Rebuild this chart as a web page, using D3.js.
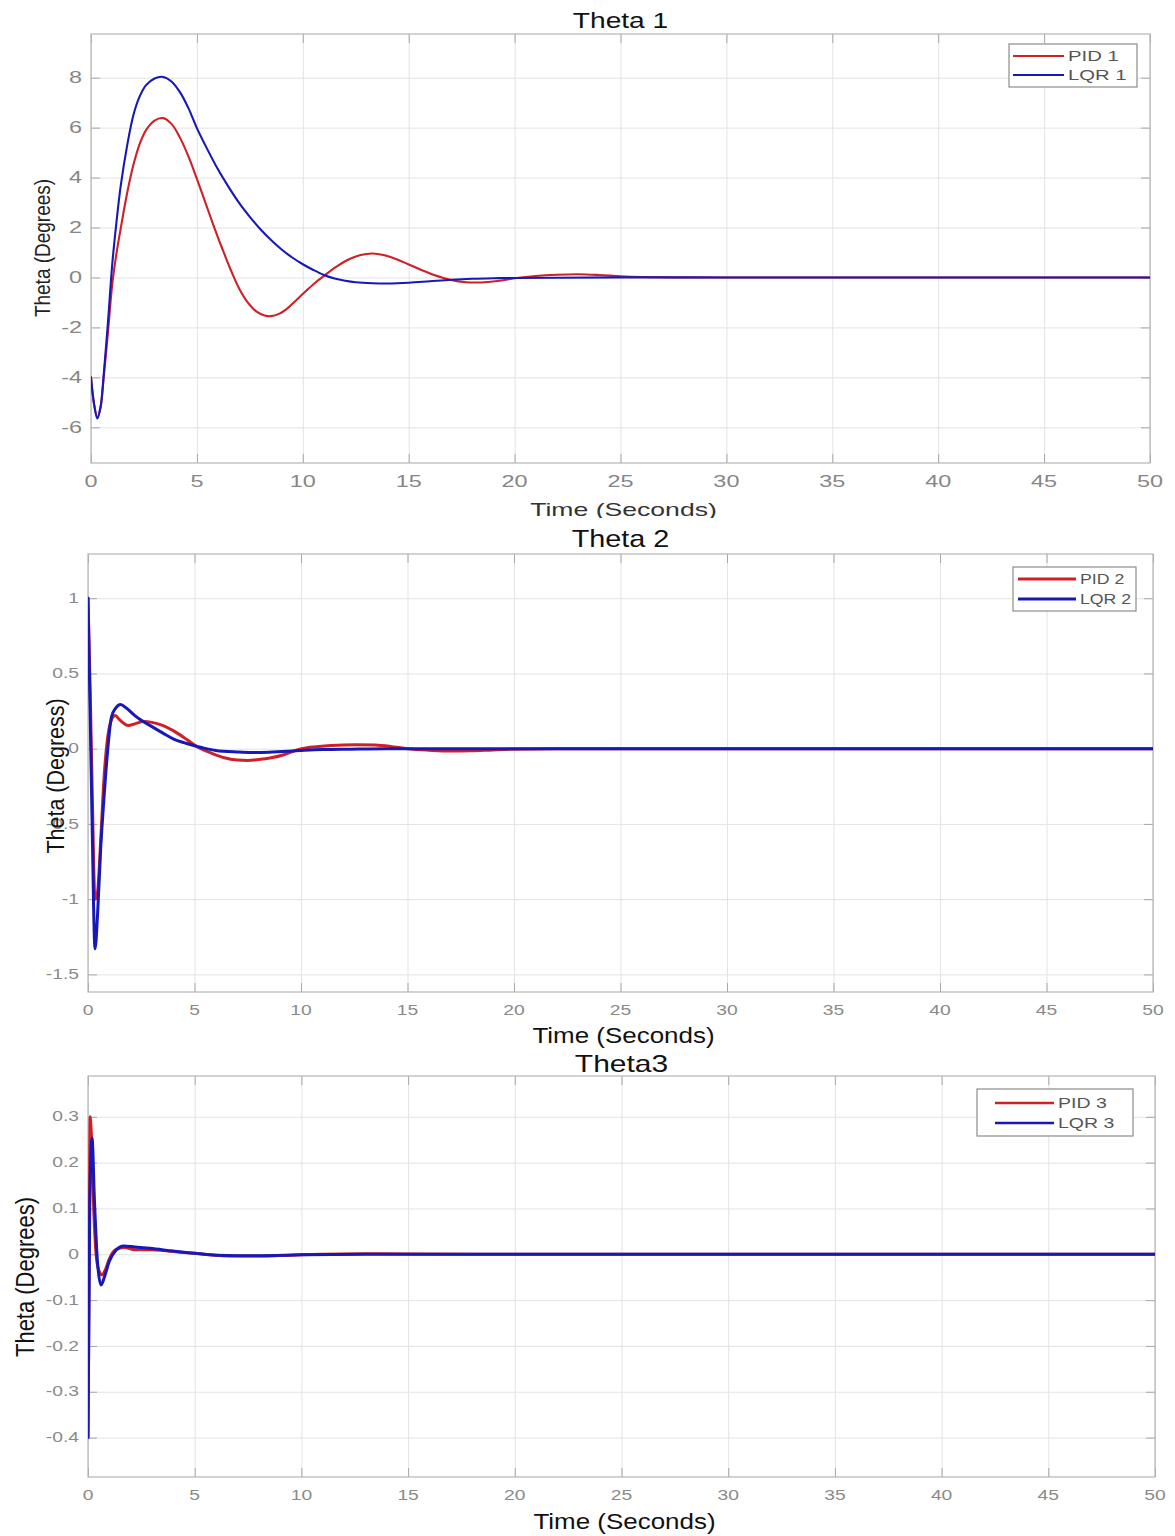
<!DOCTYPE html>
<html>
<head>
<meta charset="utf-8">
<script src="https://cdn.jsdelivr.net/npm/d3@7"></script>
<style>
  html, body { margin: 0; padding: 0; background: #fff; }
  svg { display: block; }
  text { font-family: "Liberation Sans", Arial, sans-serif; }
</style>
</head>
<body>
<svg id="chart" width="1175" height="1536"></svg>
<script>
// ---------------- DATA ----------------
const xTicks = [0, 5, 10, 15, 20, 25, 30, 35, 40, 45, 50];

// Theta 1
const theta1Ticks = [-6, -4, -2, 0, 2, 4, 6, 8];
const pid1T = [0, 0.15, 0.3, 0.45, 0.6, 0.8, 1.0, 1.2, 1.4, 1.7, 2.0, 2.3, 2.6, 3.0, 3.4, 3.8, 4.2, 4.6, 5.0, 5.4, 5.8, 6.2, 6.6, 7.0, 7.4, 7.8, 8.2, 8.5, 8.9, 9.3, 9.7, 10.2, 10.6, 11.0, 11.5, 12.0, 12.5, 13.0, 13.3, 13.8, 14.4, 15.0, 15.6, 16.2, 17.0, 17.7, 18.4, 19.2, 20.1, 21.0, 22.0, 23.0, 24.0, 25.0, 26.0, 27.5, 30, 35, 40, 45, 50];
const pid1V = [-4, -5.1, -5.6, -5.2, -4.0, -2.2, -0.3, 0.95, 1.95, 3.35, 4.5, 5.35, 5.9, 6.28, 6.38, 6.15, 5.6, 4.85, 3.95, 3.0, 2.05, 1.15, 0.3, -0.45, -1.0, -1.36, -1.52, -1.55, -1.45, -1.22, -0.9, -0.5, -0.2, 0.06, 0.38, 0.65, 0.84, 0.94, 0.96, 0.9, 0.74, 0.52, 0.3, 0.1, -0.1, -0.19, -0.2, -0.14, -0.02, 0.06, 0.11, 0.13, 0.1, 0.05, 0.02, 0, 0, 0, 0, 0, 0];
const lqr1T = [0, 0.15, 0.3, 0.45, 0.6, 0.8, 1.0, 1.2, 1.4, 1.7, 2.0, 2.3, 2.6, 3.0, 3.4, 3.8, 4.2, 4.6, 5.0, 5.5, 6.0, 6.5, 7.0, 7.5, 8.0, 8.5, 9.0, 9.5, 10.0, 10.5, 11.0, 11.5, 12.0, 12.5, 13.3, 14.0, 15.0, 16.0, 17.0, 18.0, 19.0, 20.0, 22.0, 25, 30, 35, 40, 50];
const lqr1V = [-4, -5.1, -5.65, -5.2, -3.9, -1.8, 0.5, 2.2, 3.65, 5.25, 6.5, 7.25, 7.7, 7.97, 8.03, 7.85, 7.42, 6.78, 5.98, 5.12, 4.32, 3.62, 2.98, 2.43, 1.93, 1.5, 1.12, 0.8, 0.53, 0.3, 0.1, -0.04, -0.13, -0.19, -0.23, -0.24, -0.21, -0.15, -0.09, -0.05, -0.03, -0.02, -0.01, 0.005, 0, 0, 0, 0];

// Theta 2
const theta2Ticks = [-1.5, -1, -0.5, 0, 0.5, 1];
const pid2T = [0, 0.1, 0.2, 0.33, 0.45, 0.6, 0.75, 0.9, 1.05, 1.27, 1.5, 1.89, 2.2, 2.6, 3.0, 3.5, 4.0, 4.5, 5.0, 5.3, 5.8, 6.4, 7.0, 7.5, 8.0, 8.6, 9.2, 9.9, 10.6, 11.4, 12.6, 13.5, 14.2, 15.0, 16.0, 17.0, 18.0, 19.0, 20.0, 22, 25, 30, 50];
const pid2V = [1, 0.4, -0.3, -1.0, -0.95, -0.6, -0.2, 0.05, 0.17, 0.22, 0.19, 0.155, 0.165, 0.18, 0.175, 0.155, 0.12, 0.075, 0.025, 0.0, -0.03, -0.06, -0.075, -0.078, -0.072, -0.06, -0.04, -0.005, 0.012, 0.022, 0.027, 0.024, 0.015, 0.0, -0.01, -0.016, -0.014, -0.008, -0.003, 0, 0, 0, 0];
const lqr2T = [0, 0.1, 0.2, 0.33, 0.45, 0.6, 0.72, 0.9, 1.1, 1.3, 1.53, 1.8, 2.2, 2.6, 2.9, 3.5, 4.0, 4.5, 5.0, 5.5, 6.0, 7.0, 7.6, 8.5, 10.0, 11.0, 12.3, 14, 16, 20, 50];
const lqr2V = [1, 0.25, -0.55, -1.33, -1.1, -0.65, -0.39, -0.05, 0.21, 0.27, 0.294, 0.27, 0.22, 0.18, 0.155, 0.105, 0.066, 0.04, 0.02, 0.002, -0.012, -0.022, -0.025, -0.023, -0.012, -0.006, -0.003, 0.0, 0, 0, 0];

// Theta 3
const theta3Ticks = [-0.4, -0.3, -0.2, -0.1, 0, 0.1, 0.2, 0.3];
const pid3T = [0, 0.05, 0.1, 0.15, 0.25, 0.4, 0.55, 0.66, 0.8, 1.0, 1.3, 1.7, 2.2, 2.9, 4.0, 5.0, 6.0, 7.0, 8.0, 9.5, 11, 13, 15, 20, 50];
const pid3V = [-0.4, -0.05, 0.3, 0.27, 0.12, -0.01, -0.04, -0.045, -0.035, -0.01, 0.01, 0.015, 0.01, 0.01, 0.006, 0.002, -0.002, -0.004, -0.004, -0.002, 0, 0.001, 0.0005, 0, 0];
const lqr3T = [0, 0.08, 0.19, 0.3, 0.45, 0.61, 0.8, 1.0, 1.3, 1.67, 2.2, 2.9, 4.0, 5.0, 6.0, 7.0, 8.0, 10, 13, 20, 50];
const lqr3V = [-0.4, 0.1, 0.253, 0.12, -0.02, -0.067, -0.045, -0.015, 0.008, 0.018, 0.016, 0.013, 0.007, 0.002, -0.002, -0.003, -0.003, -0.001, 0, 0, 0];

const panelTitles = ["Theta 1", "Theta 2", "Theta3"];
const yLabels = ["Theta (Degrees)", "Theta (Degress)", "Theta (Degrees)"];
const xLabel = "Time (Seconds)";
const legendNames = [["PID 1", "LQR 1"], ["PID 2", "LQR 2"], ["PID 3", "LQR 3"]];

// ---------------- LAYOUT / STYLE ----------------
const RED = "#cf2026", BLUE = "#1818b8";
const panels = [
  { left: 91, right: 1150, top: 34, bottom: 463, yDom: [-7.43, 9.75], yTicks: theta1Ticks,
    series: [[pid1T, pid1V], [lqr1T, lqr1V]], lw: 2.1, curve: d3.curveCatmullRom.alpha(0.5),
    tickFont: 16.5, tickSx: 1.42, tickColor: "#868686", xTickY: 481, yTickX: 82,
    title: { y: 20, size: 22, sx: 1.28 }, xlab: { y: 509, size: 19, sx: 1.4, color: "#333" },
    ylab: { x: 42, y: 248, size: 19, sx: 1.2, color: "#222" },
    legend: { x: 1009, y: 44, w: 128, h: 43, l1: 1013, l2: 1064, tx: 1068, r1: 56, r2: 75, size: 14, sx: 1.45, lw: 2 },
    clipBottom: 518 },
  { left: 88, right: 1153, top: 554, bottom: 992, yDom: [-1.617, 1.294], yTicks: theta2Ticks,
    series: [[pid2T, pid2V], [lqr2T, lqr2V]], lw: 3, curve: d3.curveMonotoneX,
    tickFont: 14.5, tickSx: 1.33, tickColor: "#8a8a8a", xTickY: 1010, yTickX: 79,
    title: { y: 539, size: 24, sx: 1.2 }, xlab: { y: 1035, size: 22, sx: 1.18, color: "#111" },
    ylab: { x: 55, y: 776, size: 21.5, sx: 1.15, color: "#111" },
    legend: { x: 1013, y: 567, w: 123, h: 44, l1: 1018, l2: 1076, tx: 1080, r1: 579, r2: 599, size: 15, sx: 1.18, lw: 3 },
    clipBottom: 1536 },
  { left: 88, right: 1155, top: 1076, bottom: 1477, yDom: [-0.486, 0.389], yTicks: theta3Ticks,
    series: [[pid3T, pid3V], [lqr3T, lqr3V]], lw: 3, curve: d3.curveMonotoneX,
    tickFont: 14.5, tickSx: 1.33, tickColor: "#8a8a8a", xTickY: 1495, yTickX: 79,
    title: { y: 1064, size: 24, sx: 1.25 }, xlab: { y: 1521, size: 22, sx: 1.18, color: "#111" },
    ylab: { x: 25, y: 1277, size: 22, sx: 1.15, color: "#111" },
    legend: { x: 977, y: 1089, w: 156, h: 47, l1: 995, l2: 1054, tx: 1058, r1: 1103, r2: 1123, size: 15, sx: 1.3, lw: 2.5 },
    clipBottom: 1536 }
];

const svg = d3.select("#chart");

function stretchedText(g, x, y, str, o) {
  return g.append("text")
    .attr("transform", `translate(${x},${y}) scale(${o.sx},1)` + (o.rot ? " rotate(-90)" : ""))
    .attr("text-anchor", o.anchor || "middle")
    .attr("dominant-baseline", "central")
    .attr("font-size", o.size)
    .attr("fill", o.color || "#000")
    .text(str);
}

function fmt(v) { return String(+v.toFixed(2)); }

panels.forEach((p, i) => {
  const clipId = "pclip" + i;
  svg.append("clipPath").attr("id", clipId + "t")
    .append("rect").attr("x", 0).attr("y", 0).attr("width", 1175).attr("height", p.clipBottom);
  const g = svg.append("g").attr("clip-path", `url(#${clipId}t)`);

  const x = d3.scaleLinear().domain([0, 50]).range([p.left, p.right]);
  const y = d3.scaleLinear().domain(p.yDom).range([p.bottom, p.top]);
  const w = p.right - p.left, h = p.bottom - p.top;

  // grid
  const gx = g.append("g").attr("transform", `translate(0,${p.bottom})`)
    .call(d3.axisBottom(x).tickValues(xTicks).tickSize(-h).tickFormat(""));
  const gy = g.append("g").attr("transform", `translate(${p.left},0)`)
    .call(d3.axisLeft(y).tickValues(p.yTicks).tickSize(-w).tickFormat(""));
  [gx, gy].forEach(a => {
    a.select(".domain").remove();
    a.selectAll("line").attr("stroke", "#e3e3e3").attr("stroke-width", 1);
  });

  // inward ticks on all sides
  const tl = 9;
  const axes = [
    g.append("g").attr("transform", `translate(0,${p.bottom})`).call(d3.axisBottom(x).tickValues(xTicks).tickSize(-tl).tickFormat("")),
    g.append("g").attr("transform", `translate(0,${p.top})`).call(d3.axisTop(x).tickValues(xTicks).tickSize(-tl).tickFormat("")),
    g.append("g").attr("transform", `translate(${p.left},0)`).call(d3.axisLeft(y).tickValues(p.yTicks).tickSize(-tl).tickFormat("")),
    g.append("g").attr("transform", `translate(${p.right},0)`).call(d3.axisRight(y).tickValues(p.yTicks).tickSize(-tl).tickFormat(""))
  ];
  axes.forEach(a => {
    a.select(".domain").remove();
    a.selectAll("line").attr("stroke", "#a8a8a8").attr("stroke-width", 1);
  });

  // box
  g.append("rect").attr("x", p.left).attr("y", p.top).attr("width", w).attr("height", h)
    .attr("fill", "none").attr("stroke", "#b5b5b5").attr("stroke-width", 1.2);

  // tick labels
  xTicks.forEach(t => stretchedText(g, x(t), p.xTickY, fmt(t), { size: p.tickFont, sx: p.tickSx, color: p.tickColor }));
  p.yTicks.forEach(t => stretchedText(g, p.yTickX, y(t), fmt(t), { size: p.tickFont, sx: p.tickSx, color: p.tickColor, anchor: "end" }));

  // lines
  const plotClip = "plotarea" + i;
  svg.append("clipPath").attr("id", plotClip)
    .append("rect").attr("x", p.left).attr("y", p.top).attr("width", w).attr("height", h);
  const line = d3.line().x(d => x(d[0])).y(d => y(d[1])).curve(p.curve);
  const colors = [RED, BLUE];
  p.series.forEach((s, k) => {
    const pts = s[0].map((t, j) => [t, s[1][j]]);
    g.append("path").datum(pts)
      .attr("clip-path", `url(#${plotClip})`)
      .attr("d", line).attr("fill", "none")
      .attr("stroke", colors[k]).attr("stroke-width", p.lw)
      .attr("stroke-linejoin", "round").attr("stroke-linecap", "round");
  });

  // legend
  const L = p.legend;
  g.append("rect").attr("x", L.x).attr("y", L.y).attr("width", L.w).attr("height", L.h)
    .attr("fill", "#fff").attr("stroke", "#8c8c8c").attr("stroke-width", 1.2);
  [L.r1, L.r2].forEach((ry, k) => {
    g.append("line").attr("x1", L.l1).attr("x2", L.l2).attr("y1", ry).attr("y2", ry)
      .attr("stroke", colors[k]).attr("stroke-width", L.lw);
    stretchedText(g, L.tx, ry, legendNames[i][k], { size: L.size, sx: L.sx, color: "#555", anchor: "start" });
  });

  // title and axis labels
  stretchedText(g, (p.left + p.right) / 2, p.title.y, panelTitles[i], { size: p.title.size, sx: p.title.sx, color: "#111" });
  stretchedText(g, (p.left + p.right) / 2 + 3, p.xlab.y, xLabel, { size: p.xlab.size, sx: p.xlab.sx, color: p.xlab.color });
  stretchedText(g, p.ylab.x, p.ylab.y, yLabels[i], { size: p.ylab.size, sx: p.ylab.sx, color: p.ylab.color, rot: true });
});
</script>
</body>
</html>
